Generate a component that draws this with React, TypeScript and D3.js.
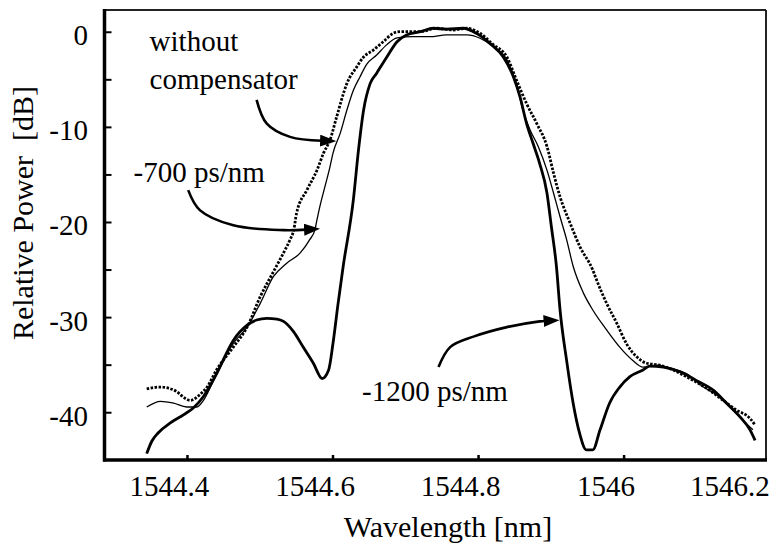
import * as d3 from "d3";

// wavelength [nm], relative power [dB]
const noCompensator: [number, number][] = [
  [1544.344, -37.5], [1544.363, -37.3], [1544.381, -37.6], [1544.404, -38.7], [1544.417, -38.1],
  [1544.427, -37.3], [1544.44, -35.5], [1544.463, -33.1], [1544.482, -31.0], [1544.5, -27.8],
  [1544.518, -25.2], [1544.532, -23.2], [1544.541, -21.8], [1544.546, -20.8], [1544.55, -19.0],
  [1544.564, -16.6], [1544.578, -14.5], [1544.587, -12.7], [1544.596, -11.3], [1544.605, -8.9],
  [1544.619, -5.4], [1544.633, -3.6], [1544.642, -2.6], [1544.655, -1.9], [1544.669, -1.0],
  [1544.683, -0.1], [1544.692, 0.06], [1544.72, 0.06], [1544.742, 0.42], [1544.765, 0.24],
  [1544.784, 0.42], [1544.802, -0.11], [1544.82, -1.3], [1544.839, -2.6], [1544.852, -5.0],
  [1544.866, -7.5], [1544.88, -9.6], [1544.894, -12.0], [1544.903, -14.8], [1544.912, -17.3],
  [1544.926, -20.1], [1544.939, -22.5], [1544.957, -25.0], [1544.962, -26.0], [1544.976, -28.5],
  [1544.99, -30.6], [1545.003, -32.7], [1545.017, -34.1], [1545.031, -34.8], [1545.049, -35.0],
  [1545.067, -35.5], [1545.09, -36.4], [1545.113, -37.4], [1545.136, -38.7], [1545.154, -39.7],
  [1545.173, -40.6], [1545.18, -41.3],
];

const comp700: [number, number][] = [
  [1544.344, -39.4], [1544.363, -38.8], [1544.381, -39.0], [1544.399, -39.4], [1544.413, -39.4],
  [1544.422, -38.7], [1544.436, -36.6], [1544.463, -32.7], [1544.482, -31.0], [1544.5, -28.5],
  [1544.518, -25.7], [1544.536, -24.3], [1544.555, -23.2], [1544.568, -21.8], [1544.575, -20.8],
  [1544.578, -19.7], [1544.582, -18.3], [1544.589, -16.2], [1544.596, -14.1], [1544.6, -12.7],
  [1544.61, -10.6], [1544.619, -8.2], [1544.628, -6.1], [1544.637, -4.7], [1544.646, -3.4],
  [1544.66, -2.4], [1544.674, -1.3], [1544.688, -0.6], [1544.71, -0.46], [1544.733, -0.46],
  [1544.756, -0.28], [1544.784, -0.28], [1544.802, -0.63], [1544.82, -1.5], [1544.839, -2.9],
  [1544.852, -5.4], [1544.861, -8.2], [1544.871, -10.3], [1544.882, -12.0], [1544.894, -14.5],
  [1544.903, -16.9], [1544.912, -19.4], [1544.921, -21.8], [1544.93, -24.6], [1544.944, -27.4],
  [1544.957, -29.2], [1544.976, -31.3], [1544.994, -33.1], [1545.012, -34.5], [1545.026, -35.2],
  [1545.045, -35.0], [1545.063, -35.3], [1545.086, -35.9], [1545.109, -37.3], [1545.127, -38.1],
  [1545.145, -39.4], [1545.163, -40.8], [1545.177, -41.8],
];

const comp1200: [number, number][] = [
  [1544.344, -44.3], [1544.351, -43.0], [1544.36, -42.1], [1544.376, -41.1], [1544.395, -40.2],
  [1544.408, -39.5], [1544.422, -38.3], [1544.44, -35.9], [1544.463, -32.4], [1544.482, -30.8],
  [1544.495, -30.25], [1544.509, -30.07], [1544.523, -30.15], [1544.532, -30.4], [1544.546, -31.5],
  [1544.559, -33.1], [1544.573, -34.8], [1544.585, -36.4], [1544.594, -35.5], [1544.6, -32.7],
  [1544.607, -28.5], [1544.614, -24.6], [1544.628, -17.6], [1544.635, -12.4], [1544.642, -8.2],
  [1544.651, -5.4], [1544.66, -4.3], [1544.674, -2.6], [1544.688, -1.0], [1544.701, -0.28],
  [1544.72, 0.06], [1544.738, 0.42], [1544.756, 0.32], [1544.779, 0.42], [1544.797, -0.11],
  [1544.816, -1.2], [1544.834, -2.6], [1544.848, -4.7], [1544.857, -6.8], [1544.866, -9.6],
  [1544.875, -11.7], [1544.884, -13.8], [1544.894, -16.9], [1544.9, -20.4], [1544.907, -24.6],
  [1544.912, -29.2], [1544.921, -34.5], [1544.93, -39.0], [1544.939, -42.2], [1544.948, -43.9],
  [1544.957, -43.9], [1544.967, -41.8], [1544.98, -39.0], [1544.994, -37.3], [1545.008, -36.2],
  [1545.026, -35.5], [1545.035, -35.1], [1545.054, -35.2], [1545.077, -35.7], [1545.099, -36.6],
  [1545.122, -37.6], [1545.141, -39.0], [1545.159, -40.4], [1545.173, -41.8], [1545.18, -42.9],
];

const xTicks = [1544.4, 1544.6, 1544.8, 1545.0, 1545.2];
const xTickLabels = ["1544.4", "1544.6", "1544.8", "1546", "1546.2"];
const yTicks = [0, -10, -20, -30, -40];
const yMinorTicks = [-5, -15, -25, -35];

// annotation texts and arrows, in data units
const labels = [
  { text: "without", x: 1544.348, y: -2.0 },
  { text: "compensator", x: 1544.348, y: -6.0 },
  { text: "-700 ps/nm", x: 1544.326, y: -15.7 },
  { text: "-1200 ps/nm", x: 1544.64, y: -38.8 },
];
const arrows: [number, number][][] = [
  [[1544.495, -7.1], [1544.509, -9.6], [1544.541, -11.0], [1544.585, -11.4]],
  [[1544.401, -16.6], [1544.417, -18.7], [1544.463, -20.3], [1544.532, -20.8], [1544.563, -20.75]],
  [[1544.745, -35.2], [1544.761, -33.1], [1544.793, -32.0], [1544.839, -31.0], [1544.884, -30.4], [1544.892, -30.35]],
];

const width = 772;
const height = 544;
const left = 104.5;
const right = 766;
const top = 10;
const bottom = 460;
const textStyle = { fontFamily: "Liberation Serif, Times New Roman, serif", fontSize: 29 };
const titleStyle = { ...textStyle, fontSize: 30 };

export default function App() {
  const x = d3.scaleLinear().domain([1544.286, 1545.195]).range([left, right]);
  const y = d3.scaleLinear().domain([-44.97, 2.34]).range([bottom, top]);

  const line = d3
    .line<[number, number]>()
    .x((d) => x(d[0]))
    .y((d) => y(d[1]))
    .curve(d3.curveMonotoneX);

  const arrowLine = d3
    .line<[number, number]>()
    .x((d) => x(d[0]))
    .y((d) => y(d[1]))
    .curve(d3.curveCatmullRom);

  return (
    <svg width={width} height={height} style={{ position: "absolute", left: 0, top: 0, background: "#fff" }}>
      <defs>
        <marker id="head" viewBox="0 0 16 12" refX="2" refY="6" markerWidth="16" markerHeight="12"
          markerUnits="userSpaceOnUse" orient="auto">
          <path d="M0,0 L16,6 L0,12 Z" fill="#000" />
        </marker>
      </defs>

      {/* frame */}
      <line x1={left} x2={right} y1={top} y2={top} stroke="#222" strokeWidth={2} />
      <line x1={right} x2={right} y1={top} y2={bottom} stroke="#222" strokeWidth={2} />
      <line x1={left} x2={left} y1={top - 1} y2={bottom + 1.5} stroke="#000" strokeWidth={3.5} />
      <line x1={left - 1.5} x2={right + 1} y1={bottom} y2={bottom} stroke="#000" strokeWidth={3.5} />

      {/* y ticks */}
      {yTicks.concat(yMinorTicks).map((v) => (
        <line key={v} x1={left} x2={left + 7} y1={y(v)} y2={y(v)} stroke="#000" strokeWidth={2} />
      ))}
      {yTicks.map((v) => (
        <text key={v} x={88} y={y(v) + 13} textAnchor="end" style={textStyle}>
          {v}
        </text>
      ))}

      {/* x ticks */}
      {xTicks.slice(0, 4).map((v) => (
        <line key={v} x1={x(v)} x2={x(v)} y1={bottom} y2={bottom - 5} stroke="#000" strokeWidth={2.5} />
      ))}
      {xTicks.map((v, i) => {
        const last = i === xTicks.length - 1;
        return (
          <text key={v} x={last ? x(v) : x(v) - 18} y={496} textAnchor={last ? "end" : "middle"} style={textStyle}>
            {xTickLabels[i]}
          </text>
        );
      })}

      {/* axis titles */}
      <text x={448} y={537} textAnchor="middle" style={titleStyle}>
        Wavelength [nm]
      </text>
      <text transform="translate(33,213) rotate(-90)" textAnchor="middle" style={{ ...titleStyle, whiteSpace: "pre" }}>
        {"Relative Power  [dB]"}
      </text>

      {/* curves */}
      <path d={line(comp700) ?? ""} fill="none" stroke="#000" strokeWidth={1.3} />
      <path d={line(comp1200) ?? ""} fill="none" stroke="#000" strokeWidth={2.8} />
      <path d={line(noCompensator) ?? ""} fill="none" stroke="#000" strokeWidth={2.8} strokeDasharray="2.5 1.5" />

      {/* annotations */}
      {labels.map((l) => (
        <text key={l.text} x={x(l.x)} y={y(l.y)} style={textStyle}>
          {l.text}
        </text>
      ))}
      {arrows.map((a, i) => (
        <path key={i} d={arrowLine(a) ?? ""} fill="none" stroke="#000" strokeWidth={2.6} markerEnd="url(#head)" />
      ))}
    </svg>
  );
}
